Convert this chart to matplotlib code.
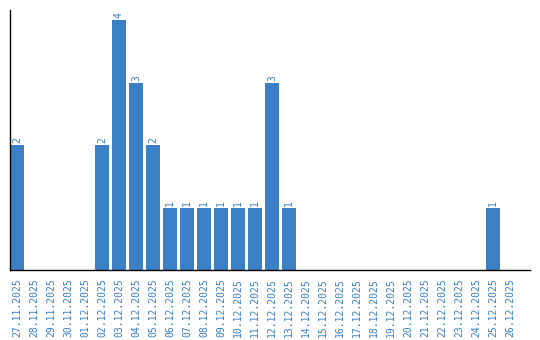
import matplotlib
matplotlib.use("Agg")
import matplotlib.pyplot as plt

dates = ["27.11.2025", "28.11.2025", "29.11.2025", "30.11.2025", "01.12.2025",
         "02.12.2025", "03.12.2025", "04.12.2025", "05.12.2025", "06.12.2025",
         "07.12.2025", "08.12.2025", "09.12.2025", "10.12.2025", "11.12.2025",
         "12.12.2025", "13.12.2025", "14.12.2025", "15.12.2025", "16.12.2025",
         "17.12.2025", "18.12.2025", "19.12.2025", "20.12.2025", "21.12.2025",
         "22.12.2025", "23.12.2025", "24.12.2025", "25.12.2025", "26.12.2025"]
counts = [2, 0, 0, 0, 0, 2, 4, 3, 2, 1, 1, 1, 1, 1, 1, 3, 1, 0, 0, 0,
          0, 0, 0, 0, 0, 0, 0, 0, 1, 0]

color = "#3b7fc4"
W, H = 540, 340
fig = plt.figure(figsize=(W/100, H/100), dpi=100)
ax = fig.add_axes([10/W, (H-270)/H, 520/W, 260/H])

x = list(range(len(dates)))
bars = ax.bar(x, counts, width=14/17, color=color)
for xi, v in zip(x, counts):
    if v > 0:
        ax.text(xi, v + 0.03, str(v), rotation=90, ha="center", va="bottom",
                color=color, fontsize=7, family="DejaVu Sans Mono")

ax.set_xlim(-7/17, 30.18)
ax.set_ylim(0, 4.16)
ax.set_xticks(x)
ax.set_xticklabels(dates, rotation=90, color=color, fontsize=7,
                   family="DejaVu Sans Mono")
ax.tick_params(axis="x", length=0, pad=6)
ax.set_yticks([])
for s in ["top", "right"]:
    ax.spines[s].set_visible(False)
ax.spines["left"].set_linewidth(1)
ax.spines["bottom"].set_linewidth(1)

fig.savefig("out.png", dpi=100)
